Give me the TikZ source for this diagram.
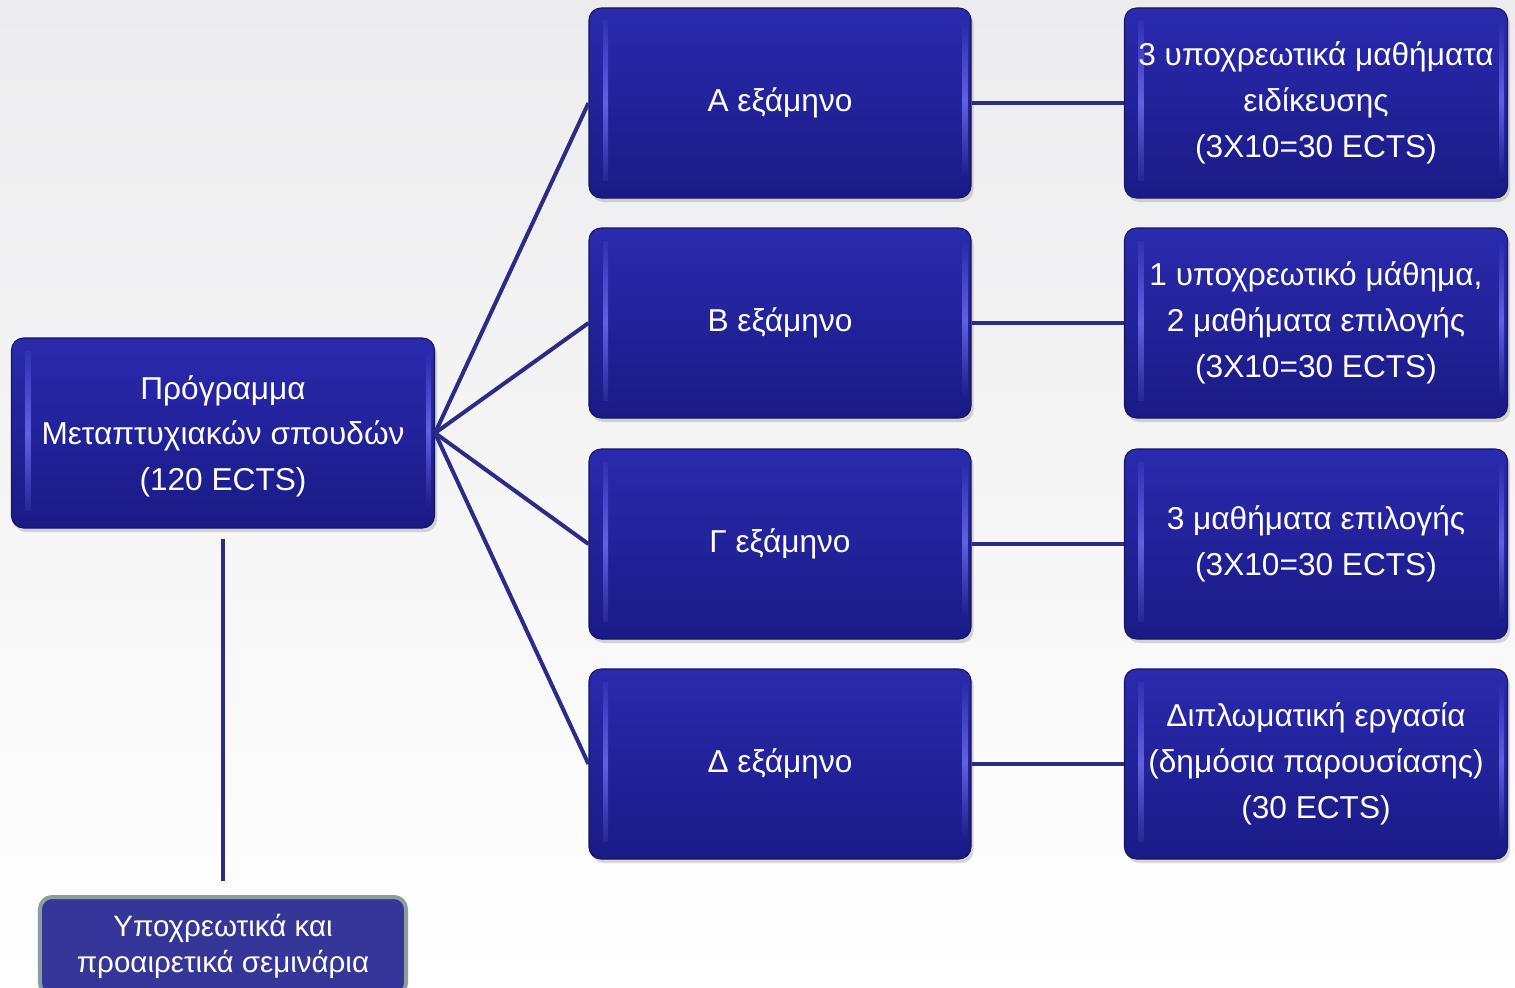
\documentclass[tikz,border=0pt]{standalone}
\usepackage{fontspec}
\setmainfont{Liberation Sans}
\usetikzlibrary{positioning,shadows}

\definecolor{bgTop}{HTML}{ECECEE}
\definecolor{boxTop}{HTML}{2A2AAE}
\definecolor{boxBot}{HTML}{1A1A86}
\definecolor{boxEdge}{HTML}{15155C}
\definecolor{boxGlow}{HTML}{7C7CFF}
\definecolor{linkBlue}{HTML}{2C2C88}
\definecolor{semFill}{HTML}{363699}
\definecolor{semEdge}{HTML}{8A9E9E}

\tikzset{
  box/.style={draw=boxEdge, line width=0.6pt, rounded corners=2.4mm,
    top color=boxTop, bottom color=boxBot, text=white, align=center,
    inner sep=0pt, font=\fontsize{18}{26}\selectfont,
    drop shadow={shadow xshift=0.5mm, shadow yshift=-0.8mm, opacity=0.3},
    path picture={
      \shade[top color=boxTop, bottom color=boxBot, middle color=boxGlow,
        opacity=0.7, sharp corners]
        ([xshift=2.8mm,yshift=-2.6mm]path picture bounding box.north west)
        rectangle ([xshift=3.8mm,yshift=3.6mm]path picture bounding box.south west);
      \shade[top color=boxTop, bottom color=boxBot, middle color=boxGlow,
        opacity=0.7, sharp corners]
        ([xshift=-0.7mm,yshift=-2.6mm]path picture bounding box.north east)
        rectangle ([xshift=-1.7mm,yshift=3.6mm]path picture bounding box.south east);
    }},
  sembox/.style={box, minimum width=76.4mm, minimum height=38mm},
  link/.style={draw=linkBlue, line width=0.8mm},
}

\begin{document}
\begin{tikzpicture}[x=0.2mm, y=-0.2mm]

% Background
\useasboundingbox (0,0) rectangle (1515,987);
\shade[top color=bgTop, bottom color=white] (0,0) rectangle (1515,987);
\clip (0,0) rectangle (1515,987);

% Programme
\node[box, minimum width=84.6mm, minimum height=38mm, text depth=-0.4mm] (prog) at (223,433)
  {Πρόγραμμα\\Μεταπτυχιακών σπουδών\\(120 ECTS)};

% Semesters
\node[sembox] (semA) at (780,103) {Α εξάμηνο};
\node[sembox] (semB) at (780,323) {Β εξάμηνο};
\node[sembox] (semC) at (780,544) {Γ εξάμηνο};
\node[sembox] (semD) at (780,764) {Δ εξάμηνο};

% Courses per semester
\node[sembox, minimum width=76.6mm] (courseA) at (1316,103)
  {3 υποχρεωτικά μαθήματα\\ειδίκευσης\\(3X10=30 ECTS)};
\node[sembox, minimum width=76.6mm] (courseB) at (1316,323)
  {1 υποχρεωτικό μάθημα,\\2 μαθήματα επιλογής\\(3X10=30 ECTS)};
\node[sembox, minimum width=76.6mm] (courseC) at (1316,544)
  {3 μαθήματα επιλογής\\(3X10=30 ECTS)};
\node[sembox, minimum width=76.6mm] (courseD) at (1316,764)
  {Διπλωματική εργασία\\(δημόσια παρουσίασης)\\(30 ECTS)};

% Seminars
\node[draw=semEdge, line width=0.8mm, fill=semFill, rounded corners=2.4mm,
  text=white, align=center, inner sep=0pt, minimum width=73.2mm,
  minimum height=19.6mm, font=\fontsize{16.8}{20.5}\selectfont]
  (seminars) at (223,946) {Υποχρεωτικά και\\προαιρετικά σεμινάρια};

% Links
\foreach \s in {A,B,C,D}{
  \draw[link] (prog.east) -- (sem\s.west);
  \draw[link] (sem\s.east) -- (course\s.west);
}
\draw[link, shorten <=2mm, shorten >=2.8mm] (prog.south) -- (seminars.north);

\end{tikzpicture}
\end{document}
